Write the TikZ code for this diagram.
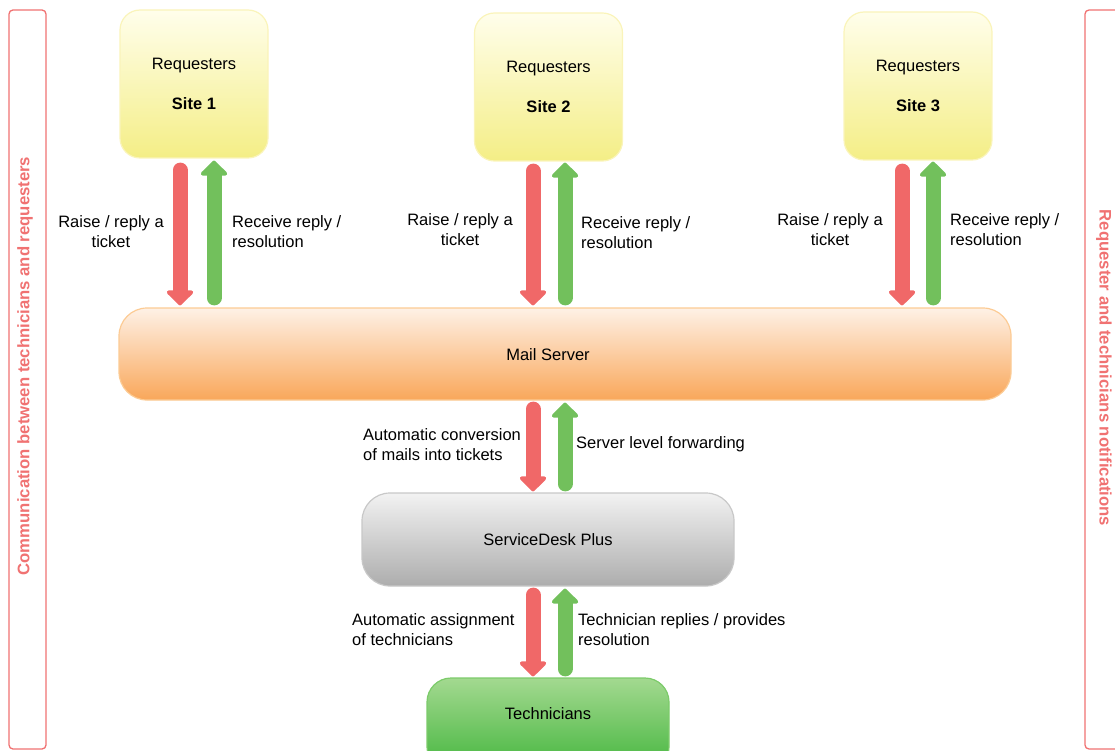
\documentclass[tikz,border=0pt]{standalone}
\usepackage{fontspec}
\setmainfont{Liberation Sans}
\usetikzlibrary{arrows.meta,calc}
\definecolor{ylt}{HTML}{FFFEEB}
\definecolor{ydk}{HTML}{F4EE86}
\definecolor{ybd}{HTML}{FAF4BA}
\definecolor{olt}{HTML}{FEF1E6}
\definecolor{odk}{HTML}{F9A75A}
\definecolor{obd}{HTML}{FCCB94}
\definecolor{glt}{HTML}{F2F2F2}
\definecolor{gdk}{HTML}{ADADAD}
\definecolor{gbd}{HTML}{C8C8C8}
\definecolor{tlt}{HTML}{A3D990}
\definecolor{tdk}{HTML}{45B63E}
\definecolor{tbd}{HTML}{7CCB6A}
\definecolor{arred}{HTML}{F06868}
\definecolor{argreen}{HTML}{72C05C}
\definecolor{barred}{HTML}{F07272}
\begin{document}
\begin{tikzpicture}[x=1pt,y=-1pt,
  font=\fontsize{16.5}{20}\selectfont,
  sitebox/.style={rounded corners=20pt, minimum width=148pt, minimum height=148pt,
    top color=ylt, bottom color=ydk, draw=ybd, line width=1.2pt, align=center, inner sep=0pt},
  mailbox/.style={rounded corners=28pt, minimum width=892pt, minimum height=92pt,
    top color=olt, bottom color=odk, draw=obd, line width=1.2pt, inner sep=0pt},
  sdbox/.style={rounded corners=28pt, minimum width=372pt, minimum height=93pt,
    top color=glt, bottom color=gdk, draw=gbd, line width=1.2pt, inner sep=0pt},
  techbox/.style={rounded corners=24pt, minimum width=242pt, minimum height=93pt,
    top color=tlt, bottom color=tdk, draw=tbd, line width=1.2pt, inner sep=0pt},
  redarr/.style={draw=arred, line width=15pt, line cap=round, -{Triangle[width=31pt,length=16pt,round,fill=arred]}},
  greenarr/.style={draw=argreen, line width=15pt, line cap=round, -{Triangle[width=31pt,length=16pt,round,fill=argreen]}},
  sidebar/.style={draw=barred, line width=1.3pt, rounded corners=4pt},
  sidetext/.style={text=barred, font=\fontsize{16.7}{20}\selectfont\bfseries},
  lab/.style={align=left, anchor=west, inner sep=0pt},
  labc/.style={align=center, inner sep=0pt}
]
\useasboundingbox (0,0) rectangle (1115,751);

% side bars
\draw[sidebar] (9,10) rectangle (46,749);
\node[sidetext, rotate=90] (lefttext) at (25,366) {Communication between technicians and requesters};
\draw[sidebar] (1085,10) rectangle (1130,749);
\node[sidetext, rotate=-90] (righttext) at (1104,368) {Requester and technicians notifications};

% boxes
\node[sitebox] (s1) at (194,84) {Requesters\\[20pt]\textbf{Site 1}};
\node[sitebox] (s2) at (548.5,87) {Requesters\\[20pt]\textbf{Site 2}};
\node[sitebox] (s3) at (918,86) {Requesters\\[20pt]\textbf{Site 3}};
\node[mailbox] (mail) at (565,354) {};
\node (mailtext) at ($(mail.center)+(-17,1)$) {Mail Server};
\node[sdbox] (sd) at (548,539.5) {ServiceDesk Plus};
\node[techbox] (tech) at (548,724.5) {};
\node (techtext) at ($(tech.center)+(0,-11)$) {Technicians};

% site arrows
\draw[redarr] ($(s1.south)+(-14,11.5)$) -- ($(s1.south |- mail.north)+(-14,-2)$);
\draw[greenarr] ($(s1.south |- mail.north)+(20,-9.5)$) -- ($(s1.south)+(20,2)$);
\draw[redarr] ($(s2.south)+(-15.5,9.5)$) -- ($(s2.south |- mail.north)+(-15.5,-2)$);
\draw[greenarr] ($(s2.south |- mail.north)+(16.5,-9.5)$) -- ($(s2.south)+(16.5,1)$);
\draw[redarr] ($(s3.south)+(-16,10.5)$) -- ($(s3.south |- mail.north)+(-16,-2)$);
\draw[greenarr] ($(s3.south |- mail.north)+(15,-9.5)$) -- ($(s3.south)+(15,1)$);

% mail <-> servicedesk
\draw[redarr] ($(sd.north |- mail.south)+(-15,8.5)$) -- ($(sd.north)+(-15,-1)$);
\draw[greenarr] ($(sd.north)+(17,-8.5)$) -- ($(sd.north |- mail.south)+(17,2)$);

% servicedesk <-> technicians
\draw[redarr] ($(sd.south)+(-15,8.5)$) -- ($(tech.north)+(-15,-1)$);
\draw[greenarr] ($(tech.north)+(17,-8.5)$) -- ($(sd.south)+(17,2)$);

% labels
\node[labc] (l1a) at (111,232) {Raise / reply a\\ticket};
\node[lab] (l1b) at (232,232) {Receive reply /\\resolution};
\node[labc] (l2a) at (460,230) {Raise / reply a\\ticket};
\node[lab] (l2b) at (581,233) {Receive reply /\\resolution};
\node[labc] (l3a) at (830,230) {Raise / reply a\\ticket};
\node[lab] (l3b) at (950,230) {Receive reply /\\resolution};
\node[lab] (l4a) at (363,445) {Automatic conversion\\of mails into tickets};
\node[lab] (l4b) at (576,444) {Server level forwarding};
\node[lab] (l5a) at (352,630) {Automatic assignment\\of technicians};
\node[lab] (l5b) at (578,630) {Technician replies / provides\\resolution};
\end{tikzpicture}
\end{document}
